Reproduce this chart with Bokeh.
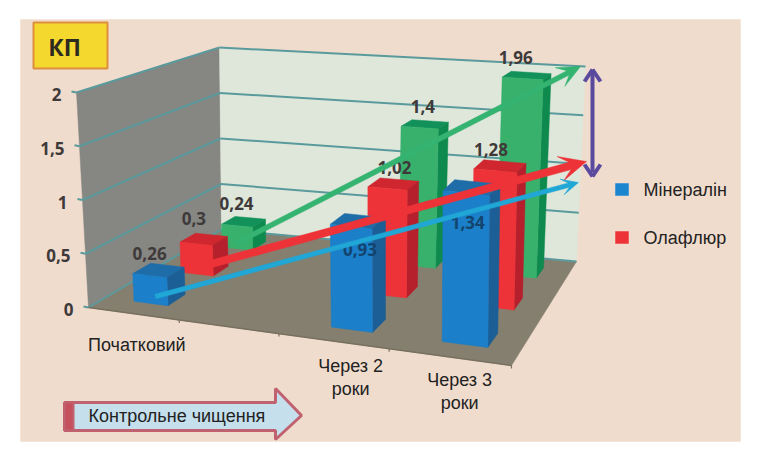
import numpy as np
from bokeh.plotting import figure
from bokeh.embed import file_html
from bokeh.resources import INLINE
from bokeh.core.properties import value

# ---- data
categories = ["Початковий", "", "Через 2\nроки", "Через 3\nроки"]
mineralin = [0.26, None, 0.93, 1.34]
olaflur = [0.30, None, 1.02, 1.28]
third = [0.24, None, 1.40, 1.96]
y_ticks = [0, 0.5, 1, 1.5, 2]
y_tick_labels = ["0", "0,5", "1", "1,5", "2"]
legend_names = ["Мінералін", "Олафлюр"]

# ---- scene geometry (page pixels)
FL, FR, BR, BL = (88, 307), (511, 365), (576, 261), (221, 229)
OFF = {"FL": (-12, -215), "FR": (3, -232), "BR": (9, -195), "BL": (-2, -182)}
BAR_W, BAR_D = 0.19, 0.18
BAR_SHIFT = [0.02, 0.0, 0.06, 0.05]

def homography(q):
    A, b = [], []
    for (u, v), (x, y) in zip([(0, 0), (1, 0), (1, 1), (0, 1)], q):
        A.append([u, v, 1, 0, 0, 0, -u * x, -v * x]); b.append(x)
        A.append([0, 0, 0, u, v, 1, -u * y, -v * y]); b.append(y)
    return np.append(np.linalg.solve(np.array(A, float), np.array(b, float)), 1).reshape(3, 3)

H = homography([FL, FR, BR, BL])

def project(u, v, h=0.0):
    x, y, w = H @ np.array([u, v, 1.0])
    x, y = x / w, y / w
    ox = (1-u)*(1-v)*OFF["FL"][0] + u*(1-v)*OFF["FR"][0] + u*v*OFF["BR"][0] + (1-u)*v*OFF["BL"][0]
    oy = (1-u)*(1-v)*OFF["FL"][1] + u*(1-v)*OFF["FR"][1] + u*v*OFF["BR"][1] + (1-u)*v*OFF["BL"][1]
    return x + ox * h / 2, y + oy * h / 2

BG, WALL_SIDE, WALL_BACK, FLOOR, GRID = "#f0dccd", "#868683", "#dee7da", "#857f6f", "#5b9a9c"
TXT = "#3f3a3a"

p = figure(width=745, height=445, x_range=(0, 745), y_range=(445, 0), output_backend="svg",
           toolbar_location=None, min_border=0, background_fill_color="white", border_fill_color="white")
p.axis.visible = False
p.grid.visible = False
p.outline_line_color = None

def poly(pts, fill, line=None, lw=1, alpha=1.0):
    p.patch([a for a, _ in pts], [b for _, b in pts], fill_color=fill, fill_alpha=alpha,
            line_color=line if line else fill, line_width=lw if line else 0.5)

def seg(a, b, color=GRID, lw=2):
    p.line([a[0], b[0]], [a[1], b[1]], line_color=color, line_width=lw)

def label(x, y, s, size=15, bold=False, color="#222222", font="Liberation Sans", align="center"):
    p.text([x], [y], text=[s], text_font=value(font), text_font_size=f"{size}px", text_color=color,
           text_font_style="bold" if bold else "normal", text_align=align, text_baseline="middle")

# panel background
poly([(20, 19), (740, 19), (740, 441), (20, 441)], BG)

# walls and floor
poly([project(0, 0), project(0, 0, 2), project(0, 1, 2), project(0, 1)], WALL_SIDE)
poly([project(0, 1), project(0, 1, 2), project(1, 1, 2), project(1, 1)], WALL_BACK)
poly([project(0, 0), project(1, 0), project(1, 1), project(0, 1)], FLOOR)

# gridlines and y ticks
for t, lab in zip(y_ticks, y_tick_labels):
    a, b, c = project(0, 0, t), project(0, 1, t), project(1, 1, t)
    seg(a, b); seg(b, c)
    seg((a[0] - 5, a[1] - 1), a)
    label(a[0] - 15, a[1] + 2, lab, size=17, bold=True, color=TXT, font="Open Sans", align="right")

# category ticks
for i in range(1, len(categories) + 1):
    a = project(i / len(categories), 0)
    seg(a, (a[0], a[1] + 3), "#77705f", 1.2)
seg(project(0, 0), project(1, 0), "#77705f", 1.5)

# bars
COLORS = {
    0: ("#1b7fc9", "#1c5f96", "#1f6da8"),
    1: ("#ee3338", "#b6202d", "#cf262f"),
    2: ("#38b16c", "#0f8a4e", "#12925a"),
}
series = [mineralin, olaflur, third]
n_c, n_s = len(categories), len(series)
LABEL_DY = {0: [-17, None, 29, 35], 1: [-21, None, -16, -17], 2: [-18, None, -18, -18]}
LABEL_DX = {0: [-9, None, 2, -4], 1: [-10, None, 1, -9], 2: [-7, None, -2, -11]}

for s in [2, 1, 0]:
    front, side, top = COLORS[s]
    for c, val in enumerate(series[s]):
        if val is None:
            continue
        u0, u1 = (c + 0.5 + BAR_SHIFT[c] - BAR_W) / n_c, (c + 0.5 + BAR_SHIFT[c] + BAR_W) / n_c
        v0, v1 = (s + 0.5 - BAR_D) / n_s, (s + 0.5 + BAR_D) / n_s
        poly([project(u0, v0, val), project(u1, v0, val), project(u1, v1, val), project(u0, v1, val)], top)
        poly([project(u1, v0), project(u1, v1), project(u1, v1, val), project(u1, v0, val)], side)
        poly([project(u0, v0), project(u1, v0), project(u1, v0, val), project(u0, v0, val)], front)
for s in [2, 1, 0]:
    for c, val in enumerate(series[s]):
        if val is None:
            continue
        cx, cy = project((c + 0.5 + BAR_SHIFT[c]) / n_c, (s + 0.5) / n_s, val)
        col = "#13446e" if (s == 0 and c > 0) else TXT
        label(cx + LABEL_DX[s][c], cy + LABEL_DY[s][c], f"{val:g}".replace(".", ","), size=17, bold=True, color=col, font="Open Sans")

# category labels
CAT_DX, CAT_DY = [4, 0, 18, 11], [31, 0, 25, 23]
for c, txt in enumerate(categories):
    if not txt:
        continue
    x, y = project((c + 0.5) / n_c, 0)
    for k, ln in enumerate(txt.split("\n")):
        label(x + CAT_DX[c], y + CAT_DY[c] + k * 23, ln, size=18)

# trend arrows
def arrow(start, tip, width, head_len, head_w, notch, fill):
    sx, sy = start; tx, ty = tip
    d = np.array([tx - sx, ty - sy], float); L = np.hypot(*d); d /= L
    n = np.array([-d[1], d[0]])
    t = np.array([tx, ty], float); s0 = np.array([sx, sy], float)
    pts = [s0 + n * width / 2, t - d * notch + n * width / 2, t - d * head_len + n * head_w / 2, t,
           t - d * head_len - n * head_w / 2, t - d * notch - n * width / 2, s0 - n * width / 2]
    poly([tuple(q) for q in pts], fill)

arrow((235, 243), (580, 66), 5, 23, 21, 14, "#35b371")
arrow((205, 265), (586, 161), 7.5, 27, 25, 17, "#ee3338")
arrow((155, 296), (578, 182), 4.5, 17, 16, 10, "#20a7d6")

# purple double arrow
seg((592, 72), (592, 172), "#5a4a9e", 4)
seg((584, 81), (592, 69), "#5a4a9e", 4); seg((600, 81), (592, 69), "#5a4a9e", 4)
seg((584, 164), (592, 176), "#5a4a9e", 4); seg((600, 164), (592, 176), "#5a4a9e", 4)

# title box
p.quad(left=[33], right=[107], top=[22], bottom=[68], fill_color="#f5d82e", line_color="#dd8f3f", line_width=2)
label(64, 46, "КП", size=23, bold=True, color="#2d2a20", font="Open Sans")

# legend
for (nm, col, yy) in zip(legend_names, ["#1b85d0", "#ee3338"], [189, 237]):
    p.quad(left=[615], right=[628], top=[yy - 6], bottom=[yy + 6], fill_color=col, line_color=col, line_width=0.5)
    label(643, yy, nm, size=18, align="left")

# control arrow
poly([(64, 402), (275, 402), (275, 388), (301, 415), (275, 439), (275, 430), (64, 430)], "#c5dfec", "#c0616f", 3)
poly([(64, 402), (73, 402), (73, 430), (64, 430)], "#c4505e", "#c0616f", 2)
label(88, 415, "Контрольне чищення", size=18, align="left")

open("out.html", "w").write(file_html(p, INLINE))
